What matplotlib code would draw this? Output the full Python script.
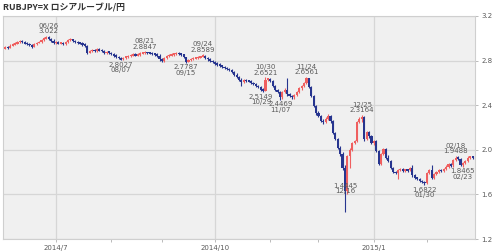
"""RUBJPY=X daily candlestick chart (Jun 2014 - Feb 2015)."""

import matplotlib

matplotlib.use("Agg")
import matplotlib.pyplot as plt
import numpy as np
import pandas as pd

# trading days shown on the chart
dates = pd.bdate_range("2014-06-02", "2015-02-27")

opens = [
    2.91, 2.92, 2.915, 2.935, 2.945, 2.955, 2.965, 2.975, 2.965, 2.955,
    2.95, 2.94, 2.925, 2.945, 2.96, 2.965, 2.985, 3.0, 3.01, 2.995,
    2.98, 2.96, 2.965, 2.955, 2.96, 2.95, 2.965, 2.985, 2.99, 2.975,
    2.965, 2.96, 2.955, 2.945, 2.93, 2.87, 2.885, 2.895, 2.89, 2.9,
    2.895, 2.885, 2.865, 2.88, 2.87, 2.86, 2.845, 2.835, 2.82, 2.81,
    2.825, 2.835, 2.84, 2.85, 2.855, 2.85, 2.855, 2.865, 2.87, 2.875,
    2.87, 2.865, 2.86, 2.855, 2.845, 2.81, 2.795, 2.82, 2.84, 2.85,
    2.855, 2.86, 2.865, 2.86, 2.855, 2.83, 2.79, 2.805, 2.815, 2.82,
    2.825, 2.83, 2.835, 2.845, 2.825, 2.81, 2.795, 2.785, 2.775, 2.765,
    2.755, 2.745, 2.735, 2.725, 2.715, 2.695, 2.675, 2.655, 2.63, 2.61,
    2.625, 2.62, 2.615, 2.6, 2.59, 2.575, 2.56, 2.54, 2.53, 2.63,
    2.635, 2.615, 2.57, 2.535, 2.52, 2.47, 2.52, 2.54, 2.5, 2.485,
    2.47, 2.49, 2.52, 2.55, 2.575, 2.6, 2.64, 2.56, 2.48, 2.39,
    2.33, 2.3, 2.26, 2.25, 2.28, 2.3, 2.26, 2.15, 2.1, 2.02,
    1.96, 1.84, 1.63, 1.94, 2.0, 2.06, 2.08, 2.25, 2.28, 2.29,
    2.1, 2.16, 2.12, 2.06, 2.08, 1.99, 1.87, 1.96, 2.01, 1.93,
    1.9, 1.84, 1.8, 1.79, 1.82, 1.825, 1.815, 1.82, 1.815, 1.84,
    1.77, 1.75, 1.74, 1.72, 1.71, 1.7, 1.79, 1.82, 1.75, 1.78,
    1.8, 1.82, 1.81, 1.83, 1.85, 1.87, 1.86, 1.91, 1.93, 1.92,
    1.86, 1.88, 1.9, 1.93, 1.94,
]
highs = [
    2.93, 2.93, 2.945, 2.955, 2.965, 2.975, 2.985, 2.985, 2.975, 2.965,
    2.96, 2.95, 2.955, 2.97, 2.975, 2.995, 3.01, 3.018, 3.022, 3.005,
    2.99, 2.975, 2.975, 2.97, 2.97, 2.975, 2.995, 3.0, 2.995, 2.985,
    2.975, 2.97, 2.965, 2.955, 2.94, 2.895, 2.905, 2.905, 2.91, 2.91,
    2.905, 2.895, 2.89, 2.89, 2.88, 2.87, 2.855, 2.845, 2.83, 2.835,
    2.845, 2.85, 2.86, 2.865, 2.865, 2.865, 2.875, 2.88, 2.8847, 2.88,
    2.88, 2.875, 2.87, 2.865, 2.855, 2.82, 2.83, 2.85, 2.86, 2.865,
    2.87, 2.875, 2.875, 2.87, 2.86, 2.835, 2.815, 2.825, 2.83, 2.835,
    2.84, 2.845, 2.8589, 2.85, 2.835, 2.82, 2.805, 2.795, 2.785, 2.775,
    2.765, 2.755, 2.745, 2.735, 2.725, 2.705, 2.685, 2.665, 2.64, 2.635,
    2.635, 2.63, 2.625, 2.61, 2.6, 2.585, 2.57, 2.55, 2.6521, 2.645,
    2.645, 2.625, 2.58, 2.545, 2.53, 2.53, 2.55, 2.645, 2.51, 2.495,
    2.5, 2.53, 2.56, 2.585, 2.61, 2.6561, 2.645, 2.57, 2.49, 2.4,
    2.35, 2.31, 2.28, 2.29, 2.32, 2.31, 2.27, 2.16, 2.11, 2.03,
    1.98, 1.86, 1.95, 2.02, 2.07, 2.09, 2.26, 2.29, 2.3164, 2.3,
    2.17, 2.17, 2.13, 2.09, 2.09, 2.0, 1.97, 2.02, 2.02, 1.95,
    1.91, 1.85, 1.81, 1.83, 1.835, 1.835, 1.83, 1.83, 1.85, 1.86,
    1.78, 1.76, 1.75, 1.73, 1.72, 1.8, 1.83, 1.86, 1.79, 1.81,
    1.83, 1.83, 1.84, 1.86, 1.88, 1.88, 1.92, 1.9488, 1.94, 1.93,
    1.89, 1.91, 1.94, 1.947, 1.945,
]
lows = [
    2.9, 2.905, 2.91, 2.93, 2.94, 2.95, 2.96, 2.96, 2.95, 2.94,
    2.93, 2.915, 2.92, 2.94, 2.955, 2.96, 2.975, 2.99, 2.985, 2.97,
    2.95, 2.95, 2.945, 2.945, 2.94, 2.94, 2.955, 2.975, 2.965, 2.955,
    2.95, 2.945, 2.935, 2.92, 2.86, 2.865, 2.875, 2.88, 2.88, 2.885,
    2.875, 2.855, 2.86, 2.86, 2.85, 2.835, 2.825, 2.81, 2.8027, 2.805,
    2.815, 2.825, 2.83, 2.84, 2.84, 2.84, 2.845, 2.855, 2.86, 2.86,
    2.855, 2.85, 2.845, 2.835, 2.8, 2.785, 2.785, 2.81, 2.83, 2.84,
    2.845, 2.85, 2.85, 2.845, 2.82, 2.7787, 2.785, 2.795, 2.805, 2.81,
    2.815, 2.82, 2.83, 2.815, 2.8, 2.785, 2.775, 2.765, 2.755, 2.745,
    2.735, 2.725, 2.715, 2.705, 2.685, 2.665, 2.645, 2.62, 2.57, 2.6,
    2.61, 2.605, 2.59, 2.58, 2.565, 2.55, 2.53, 2.5149, 2.525, 2.615,
    2.605, 2.56, 2.525, 2.505, 2.4469, 2.46, 2.51, 2.48, 2.475, 2.455,
    2.46, 2.48, 2.51, 2.54, 2.565, 2.59, 2.55, 2.47, 2.38, 2.31,
    2.29, 2.25, 2.23, 2.24, 2.27, 2.24, 2.14, 2.09, 2.01, 1.94,
    1.82, 1.4445, 1.6, 1.84, 1.99, 2.05, 2.07, 2.24, 2.25, 2.08,
    2.09, 2.11, 2.05, 2.04, 1.98, 1.86, 1.86, 1.95, 1.92, 1.89,
    1.83, 1.79, 1.78, 1.74, 1.81, 1.805, 1.805, 1.805, 1.81, 1.76,
    1.74, 1.73, 1.71, 1.7, 1.6822, 1.69, 1.78, 1.74, 1.74, 1.77,
    1.79, 1.8, 1.8, 1.82, 1.84, 1.85, 1.85, 1.9, 1.91, 1.855,
    1.8465, 1.87, 1.89, 1.92, 1.92,
]
closes = [
    2.92, 2.915, 2.935, 2.945, 2.955, 2.965, 2.975, 2.965, 2.955, 2.95,
    2.94, 2.925, 2.945, 2.96, 2.965, 2.985, 3.0, 3.01, 2.995, 2.98,
    2.96, 2.965, 2.955, 2.96, 2.95, 2.965, 2.985, 2.99, 2.975, 2.965,
    2.96, 2.955, 2.945, 2.93, 2.87, 2.885, 2.895, 2.89, 2.9, 2.895,
    2.885, 2.865, 2.88, 2.87, 2.86, 2.845, 2.835, 2.82, 2.81, 2.825,
    2.835, 2.84, 2.85, 2.855, 2.85, 2.855, 2.865, 2.87, 2.875, 2.87,
    2.865, 2.86, 2.855, 2.845, 2.81, 2.795, 2.82, 2.84, 2.85, 2.855,
    2.86, 2.865, 2.86, 2.855, 2.83, 2.79, 2.805, 2.815, 2.82, 2.825,
    2.83, 2.835, 2.845, 2.825, 2.81, 2.795, 2.785, 2.775, 2.765, 2.755,
    2.745, 2.735, 2.725, 2.715, 2.695, 2.675, 2.655, 2.63, 2.61, 2.625,
    2.62, 2.615, 2.6, 2.59, 2.575, 2.56, 2.54, 2.53, 2.63, 2.635,
    2.615, 2.57, 2.535, 2.52, 2.47, 2.52, 2.54, 2.5, 2.485, 2.47,
    2.49, 2.52, 2.55, 2.575, 2.6, 2.64, 2.56, 2.48, 2.39, 2.33,
    2.3, 2.26, 2.25, 2.28, 2.3, 2.26, 2.15, 2.1, 2.02, 1.96,
    1.84, 1.63, 1.94, 2.0, 2.06, 2.08, 2.25, 2.28, 2.29, 2.1,
    2.16, 2.12, 2.06, 2.08, 1.99, 1.87, 1.96, 2.01, 1.93, 1.9,
    1.84, 1.8, 1.79, 1.82, 1.825, 1.815, 1.82, 1.815, 1.84, 1.77,
    1.75, 1.74, 1.72, 1.71, 1.7, 1.79, 1.82, 1.75, 1.78, 1.8,
    1.82, 1.81, 1.83, 1.85, 1.87, 1.86, 1.91, 1.93, 1.92, 1.86,
    1.88, 1.9, 1.93, 1.94, 1.93,
]

# days that carry a high / low label on the chart
high_marks = [18, 58, 82, 108, 125, 148, 187]
low_marks = [48, 75, 107, 114, 141, 174, 190]

y_ticks = [1.2, 1.6, 2.0, 2.4, 2.8, 3.2]
title = "RUBJPY=X ロシアルーブル/円"

UP = "#ef5f5f"
DOWN = "#27358f"
GRID = "#d6d6d6"
TEXT = "#5a5a5a"


def fmt_price(v):
    return f"{v:.4f}".rstrip("0").rstrip(".")


o = np.array(opens)
c = np.array(closes)
h = np.array(highs)
lo = np.array(lows)
idx = np.arange(len(dates))
colors = np.where(c >= o, UP, DOWN)

fig = plt.figure(figsize=(5.0, 2.52), dpi=100)
ax = fig.add_axes([3 / 500, 13 / 252, 472 / 500, 223 / 252])
ax.set_facecolor("#f0f0f0")

ax.vlines(idx, lo, h, colors=colors, linewidth=0.8, zorder=3)
# small moves still get a visible body, as on the original chart
body = np.maximum(np.abs(c - o), 0.014)
mid = (o + c) / 2
ax.bar(idx, body, bottom=mid - body / 2, width=0.9, color=colors,
       linewidth=0, zorder=4)

# month ticks: quarter months get a label and a grid line
month_first = [i for i in range(1, len(dates)) if dates[i].month != dates[i - 1].month]
major = [i for i in month_first if dates[i].month in (1, 4, 7, 10)]
minor = [i for i in month_first if i not in major]
ax.set_xticks(major)
ax.set_xticklabels([f"{dates[i].year}/{dates[i].month}" for i in major])
ax.set_xticks(minor, minor=True)
ax.set_xlim(-1, len(dates))

ax.set_ylim(y_ticks[0], y_ticks[-1])
ax.yaxis.tick_right()
ax.set_yticks(y_ticks)
ax.set_yticklabels([f"{v:.1f}" for v in y_ticks])

ax.grid(True, axis="y", color=GRID, linewidth=0.9, zorder=0)
ax.grid(True, axis="x", which="major", color=GRID, linewidth=0.9, zorder=0)
ax.tick_params(axis="both", which="both", length=2.5, width=0.6, color="#b0b0b0",
               labelsize=5, labelcolor=TEXT, pad=2)
for sp in ax.spines.values():
    sp.set_color("#cfcfcf")
    sp.set_linewidth(0.8)

for i in high_marks:
    ax.annotate(f"{dates[i]:%m/%d}\n{fmt_price(highs[i])}", xy=(i, highs[i]),
                xytext=(0, 1.0), textcoords="offset points", ha="center",
                va="bottom", fontsize=5, color=TEXT, linespacing=0.9, zorder=5)

# label nudges (points) where the original shifts a label off its candle
low_offsets = {107: (-1.5, -1.0), 114: (0.5, -1.0), 141: (0, 21)}
for i in low_marks:
    ax.annotate(f"{fmt_price(lows[i])}\n{dates[i]:%m/%d}", xy=(i, lows[i]),
                xytext=low_offsets.get(i, (0, -1.0)), textcoords="offset points",
                ha="center", va="top", fontsize=5, color=TEXT,
                linespacing=0.9, zorder=5)

fig.text(3 / 500, 1 - 8 / 252, title, ha="left", va="center", fontsize=6.4,
         fontweight="bold", color="#333333",
         family=["Noto Sans CJK JP", "DejaVu Sans"])

fig.savefig("out.png", dpi=100)
